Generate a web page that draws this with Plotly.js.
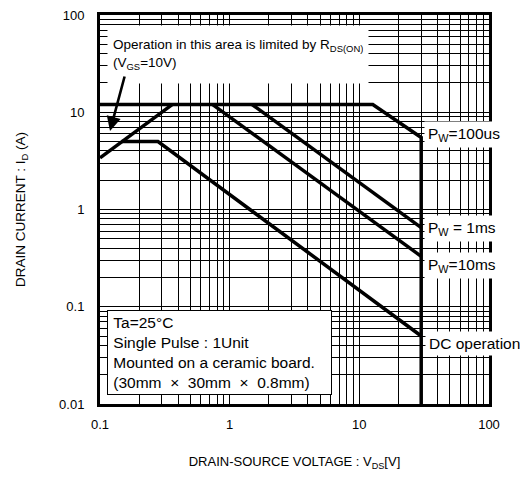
<!DOCTYPE html>
<html>
<head>
<meta charset="utf-8">
<script src="https://cdn.plot.ly/plotly-3.0.1.min.js"></script>
<style>html,body{margin:0;padding:0;background:#fff}#chart{width:528px;height:482px}</style>
</head>
<body>
<div id="chart"></div>
<script>
// Safe operating area data (VDS in V, ID in A)
const vds100us = [0.1, 12.7, 30, 30];
const id100us  = [12, 12, 5.5, 0.01];
const vds1ms   = [1.49, 30];
const id1ms    = [12, 0.65];
const vds10ms  = [0.74, 30];
const id10ms   = [12, 0.33];
const vdsDC    = [0.147, 0.28, 30];
const idDC     = [5, 5, 0.05];
const vdsRds   = [0.1, 0.36];
const idRds    = [3.4, 12];

const xTickVals = [0.1, 1, 10, 100];
const xTickText = ['0.1', '1', '10', '100'];
const yTickVals = [0.01, 0.1, 1, 10, 100];
const yTickText = ['0.01', '0.1', '1', '10', '100'];
const xMinor = [0.2,0.3,0.4,0.5,0.6,0.7,0.8,0.9,2,3,4,5,6,7,8,9,20,30,40,50,60,70,80,90];
const yMinor = [0.02,0.03,0.04,0.05,0.06,0.07,0.08,0.09,0.2,0.3,0.4,0.5,0.6,0.7,0.8,0.9,2,3,4,5,6,7,8,9,20,30,40,50,60,70,80,90];

const FONT = 'Arial, "Liberation Sans", sans-serif';
const line = {color: '#000', width: 3.5};

const traces = [
  {x: vds100us, y: id100us, mode: 'lines', line: line, name: 'PW=100us'},
  {x: vds1ms, y: id1ms, mode: 'lines', line: line, name: 'PW=1ms'},
  {x: vds10ms, y: id10ms, mode: 'lines', line: line, name: 'PW=10ms'},
  {x: vdsDC, y: idDC, mode: 'lines', line: line, name: 'DC'},
  {x: vdsRds, y: idRds, mode: 'lines', line: line, name: 'RDS(on)'}
];

function axisBase() {
  return {
    type: 'log',
    showline: true, linecolor: '#000', linewidth: 3, mirror: true,
    showgrid: true, gridcolor: '#000', gridwidth: 1,
    zeroline: false, ticks: '', tickfont: {family: FONT, size: 13, color: '#000'},
    tickmode: 'array'
  };
}

const xaxis = Object.assign(axisBase(), {
  range: [-1, 2], tickvals: xTickVals, ticktext: xTickText,
  ticklabelstandoff: 6,
  minor: {tickmode: 'array', tickvals: xMinor, showgrid: true, gridcolor: '#000', gridwidth: 1, ticks: ''},
  title: {text: 'DRAIN-SOURCE VOLTAGE : V<sub>DS</sub>[V]', font: {family: FONT, size: 13, color: '#000'}, standoff: 27}
});
const yaxis = Object.assign(axisBase(), {
  range: [-2, 2], tickvals: yTickVals, ticktext: yTickText,
  ticklabelstandoff: 10,
  minor: {tickmode: 'array', tickvals: yMinor, showgrid: true, gridcolor: '#000', gridwidth: 1, ticks: ''},
  title: {text: 'DRAIN CURRENT : I<sub>D</sub> (A)', font: {family: FONT, size: 13.5, color: '#000'}, standoff: 31}
});

function px2paperX(p) { return (p - 100) / 389; }
function px2paperY(p) { return (404 - p) / 389; }

const tf = {family: FONT, size: 13.5, color: '#000'};
const lf = {family: FONT, size: 15.5, color: '#000'};
const annotations = [
  {xref: 'paper', yref: 'paper', x: px2paperX(107), y: px2paperY(25), xanchor: 'left', yanchor: 'top',
   text: 'Operation in this area is limited by R<sub>DS(ON)</sub><br>(V<sub>GS</sub>=10V)',
   showarrow: false, align: 'left', valign: 'middle', bgcolor: '#fff', height: 47, borderpad: 5, font: tf},
  {xref: 'paper', yref: 'paper', x: px2paperX(110), y: px2paperY(131), ax: 15, ay: -56,
   text: '', showarrow: true, arrowhead: 2, arrowsize: 1.1, arrowwidth: 2.6, arrowcolor: '#000', standoff: 0},
  {xref: 'paper', yref: 'paper', x: px2paperX(107), y: px2paperY(310), xanchor: 'left', yanchor: 'top',
   text: '\u00a0Ta=25°C<br>\u00a0Single Pulse : 1Unit<br>\u00a0Mounted on a ceramic board.<br>\u00a0(30mm\u00a0 \u00d7\u00a0 30mm\u00a0 \u00d7\u00a0 0.8mm)',
   showarrow: false, align: 'left', valign: 'middle', bgcolor: '#fff', bordercolor: '#000', borderwidth: 1,
   width: 221, height: 81, borderpad: 1, font: {family: FONT, size: 15.5, color: '#000'}},
  {xref: 'paper', yref: 'paper', x: px2paperX(424), y: px2paperY(134), xanchor: 'left', yanchor: 'middle',
   text: 'P<sub>W</sub>=100us', showarrow: false, bgcolor: '#fff', borderpad: 3, font: lf},
  {xref: 'paper', yref: 'paper', x: px2paperX(424), y: px2paperY(228), xanchor: 'left', yanchor: 'middle',
   text: 'P<sub>W</sub> = 1ms', showarrow: false, bgcolor: '#fff', borderpad: 3, font: lf},
  {xref: 'paper', yref: 'paper', x: px2paperX(424), y: px2paperY(265), xanchor: 'left', yanchor: 'middle',
   text: 'P<sub>W</sub>=10ms', showarrow: false, bgcolor: '#fff', borderpad: 3, font: lf},
  {xref: 'paper', yref: 'paper', x: px2paperX(425), y: px2paperY(343), xanchor: 'left', yanchor: 'middle',
   text: 'DC operation', showarrow: false, bgcolor: '#fff', borderpad: 3, font: lf}
];

const layout = {
  width: 528, height: 482,
  margin: {l: 100, r: 39, t: 15, b: 78},
  paper_bgcolor: '#fff', plot_bgcolor: '#fff',
  showlegend: false,
  font: {family: FONT, color: '#000'},
  xaxis: xaxis, yaxis: yaxis,
  annotations: annotations
};

Plotly.newPlot('chart', traces, layout, {displayModeBar: false, staticPlot: true});
</script>
</body>
</html>
